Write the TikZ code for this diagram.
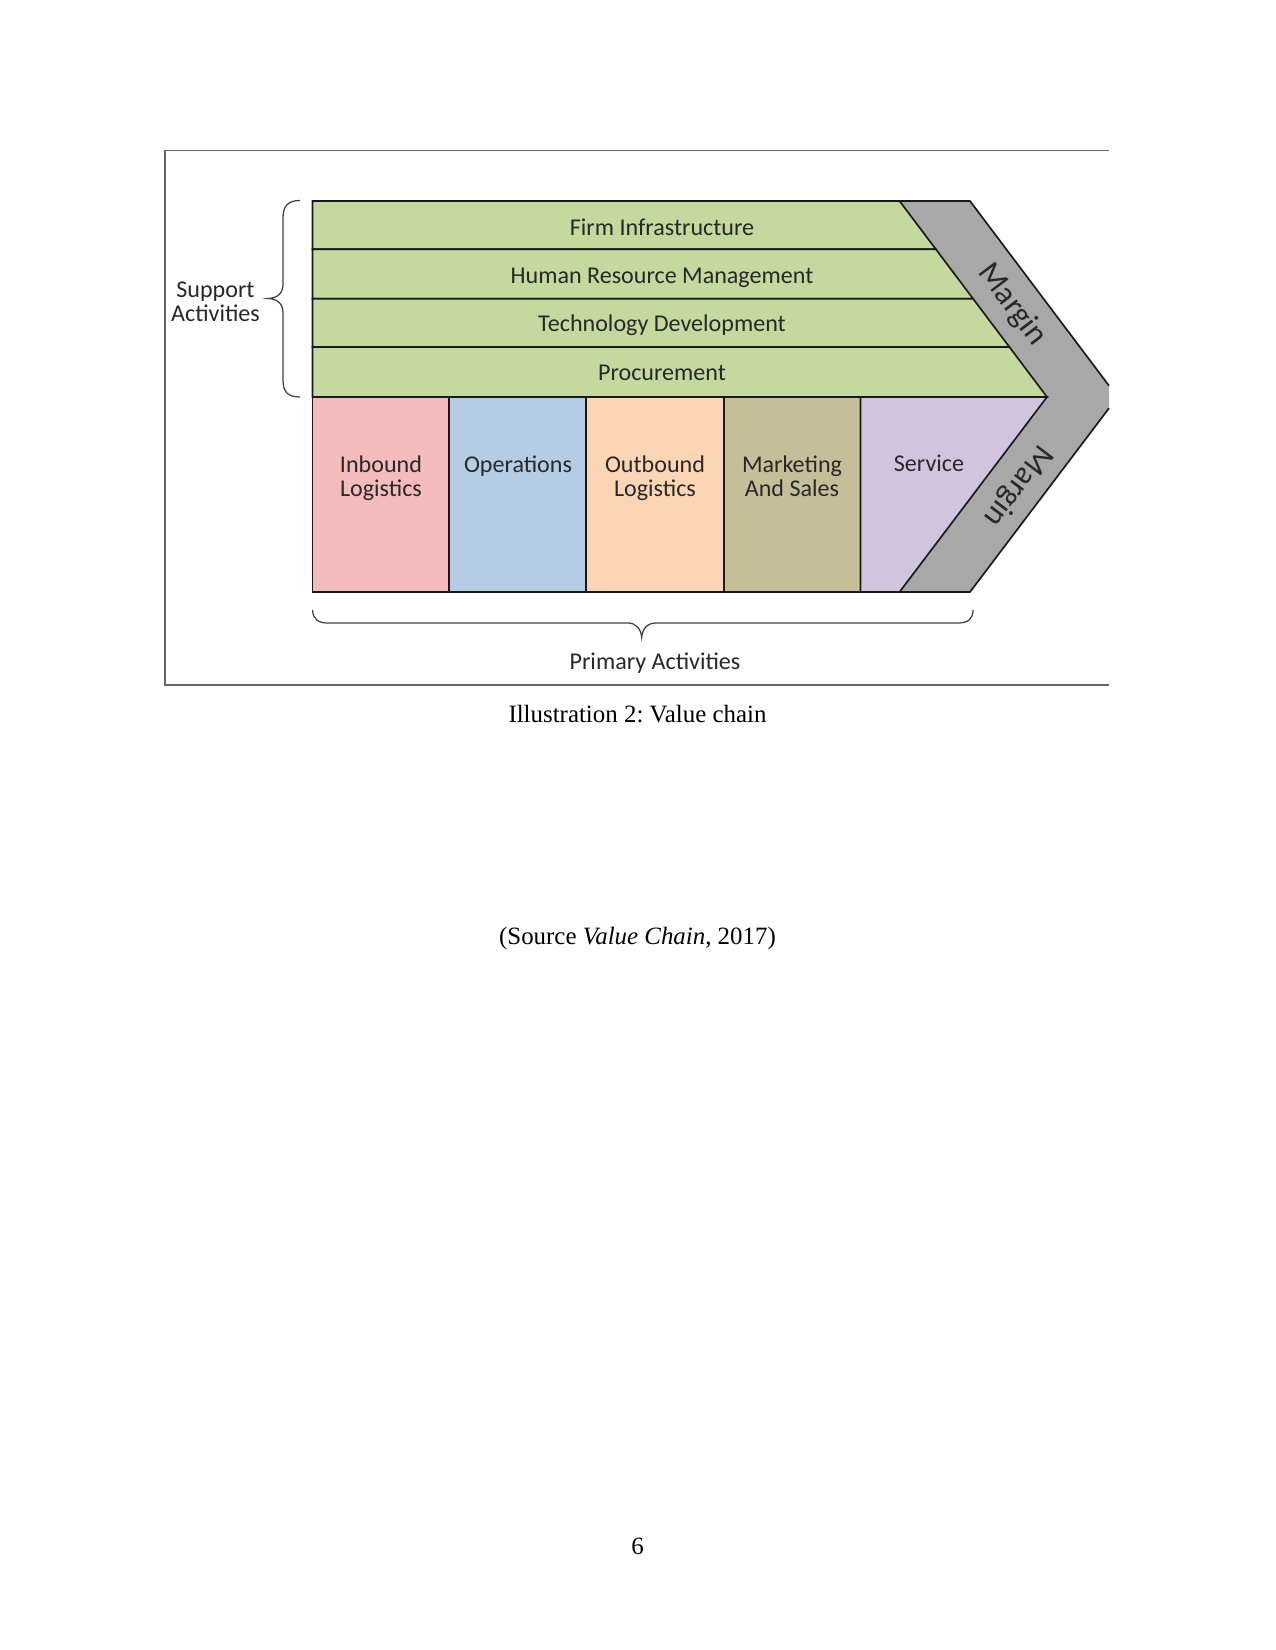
\documentclass[tikz,border=0pt]{standalone}
\usepackage{fontspec}
\setmainfont{Liberation Serif}
\newfontfamily\diafont{Carlito}
\frenchspacing
\definecolor{vgreen}{RGB}{195,217,157}
\definecolor{vpink}{RGB}{244,188,188}
\definecolor{vblue}{RGB}{180,205,228}
\definecolor{vorange}{RGB}{252,214,180}
\definecolor{vtan}{RGB}{198,190,152}
\definecolor{vpurple}{RGB}{210,196,222}
\definecolor{vgray}{RGB}{168,168,168}
\definecolor{vtext}{RGB}{40,40,40}
\tikzset{
  cell/.style={draw=black!90, line width=0.8pt, line join=miter},
  dtext/.style={font=\diafont\fontsize{11.6}{11.6}\selectfont, text=vtext, align=center, inner sep=0pt},
  mtext/.style={font=\diafont\fontsize{15.5}{16}\selectfont, text=vtext, inner sep=0pt},
  captext/.style={font=\fontsize{12}{14}\selectfont, inner sep=0pt},
  bracestyle/.style={draw=black!75, line width=0.6pt},
  framestyle/.style={draw=black!60, line width=0.6pt}
}
\begin{document}
\begin{tikzpicture}[x=0.169333mm, y=-0.169333mm]
\useasboundingbox (0,0) rectangle (1275,1650);
% frame
\draw[framestyle] (1109,150.5) -- (165,150.5) -- (165,685) -- (1109,685);
% margin chevron
\fill[vgray] (899.5,201) -- (970,201) -- (1109,385.7) -- (1109,408.2) -- (970,592) -- (899.5,592) -- (1047,397) -- cycle;
\draw[cell] (899.5,201) -- (970,201) -- (1109,385.7);
\draw[cell] (1109,408.2) -- (970,592) -- (899.5,592);
% support rows
\draw[cell, fill=vgreen] (312.5,201) -- (899.5,201) -- (935.9,249.3) -- (312.5,249.3) -- cycle;
\draw[cell, fill=vgreen] (312.5,249.3) -- (935.9,249.3) -- (973.1,298.8) -- (312.5,298.8) -- cycle;
\draw[cell, fill=vgreen] (312.5,298.8) -- (973.1,298.8) -- (1009.4,347) -- (312.5,347) -- cycle;
\draw[cell, fill=vgreen] (312.5,347) -- (1009.4,347) -- (1047,397) -- (312.5,397) -- cycle;
% primary columns
\draw[cell, fill=vpink] (312.5,397) rectangle (449,592);
\draw[cell, fill=vblue] (449,397) rectangle (586,592);
\draw[cell, fill=vorange] (586,397) rectangle (724,592);
\draw[cell, fill=vtan] (724,397) rectangle (860.5,592);
\draw[cell, fill=vpurple] (860.5,397) -- (1047,397) -- (899.5,592) -- (860.5,592) -- cycle;
% support texts
\node[dtext] (firm) at (662,227.5) {Firm Infrastructure};
\node[dtext] (hrm) at (662,277.5) {Human Resource Management};
\node[dtext] (tech) at (662,325) {Technology Development};
\node[dtext] (proc) at (662,373) {Procurement};
% primary texts
\node[dtext, anchor=north] (inb) at (381,455) {Inbound\\Logistics};
\node[dtext, anchor=north] (ops) at (518,455) {Operations};
\node[dtext, anchor=north] (outb) at (655,455) {Outbound\\Logistics};
\node[dtext, anchor=north] (mkt) at (792,455) {Marketing\\And Sales};
\node[dtext, anchor=north] (serv) at (929,455) {Service};
% margin labels
\node[mtext, rotate=-53] (m1) at (1012,305) {Margin};
\node[mtext, rotate=233] (m2) at (1018,486) {Margin};
% support brace
\draw[bracestyle] (300,200.5) .. controls (288,200.5) and (283,206) .. (283,218) -- (283,284) .. controls (283,293) and (278,298) .. (268,298.5) .. controls (278,299) and (283,304) .. (283,313) -- (283,380) .. controls (283,392) and (288,397) .. (300,397);
\node[dtext, anchor=north] (supp) at (215.5,281) {Support\\Activities};
% primary brace
\draw[bracestyle] (312.5,610) .. controls (313,619) and (318,623) .. (328,623) -- (628,623) .. controls (636,623) and (641,629) .. (641.7,637.5) .. controls (642.4,629) and (647,623) .. (656,623) -- (958,623) .. controls (968,623) and (973,619) .. (973,610);
\node[dtext] (prim) at (655,663) {Primary Activities};
% captions
\node[captext] (cap) at (637.5,714) {Illustration 2: Value chain};
\node[captext] (src) at (637.5,938) {(Source \textit{Value Chain}, 2017)};
\node[captext] (pg) at (637.5,1546.5) {6};
\end{tikzpicture}
\end{document}
